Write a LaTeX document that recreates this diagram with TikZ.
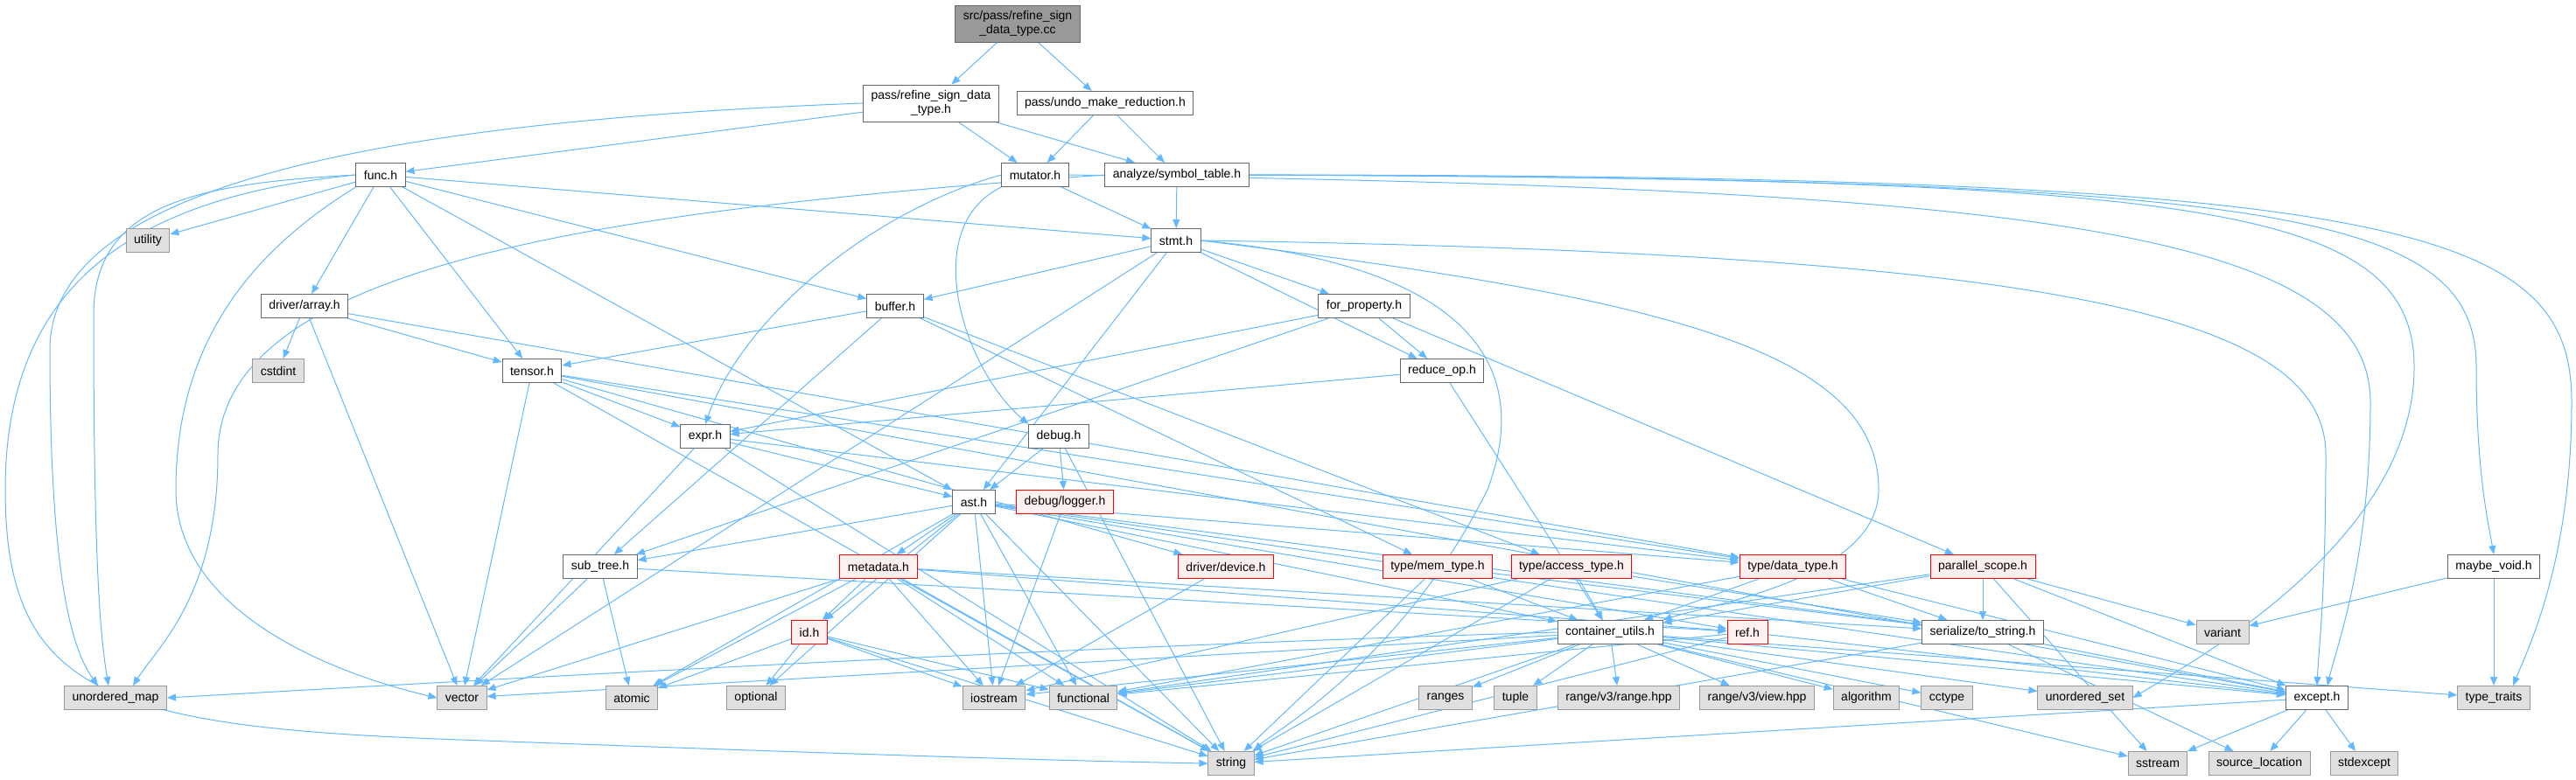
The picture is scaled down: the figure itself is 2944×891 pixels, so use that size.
\documentclass[tikz,border=0pt]{standalone}
\usepackage{fontspec}
\setmainfont{Liberation Sans}
\usetikzlibrary{arrows.meta,backgrounds}
\definecolor{depblue}{RGB}{99,184,255}
\definecolor{boxgray}{RGB}{102,102,102}
\definecolor{sysfill}{RGB}{224,224,224}
\definecolor{sysline}{RGB}{153,153,153}
\definecolor{truncfill}{RGB}{255,240,240}
\definecolor{truncline}{RGB}{255,0,0}
\definecolor{rootfill}{RGB}{153,153,153}

\begin{document}
\begin{tikzpicture}[x=0.5pt,y=-0.5pt,
    hdr/.style={draw=boxgray,fill=white,line width=0.5pt,font=\fontsize{7}{8}\selectfont,inner xsep=4.5pt,inner ysep=1pt,minimum height=13.5pt,align=center},
    sys/.style={hdr,draw=sysline,fill=sysfill},
    trunc/.style={hdr,draw=truncline,fill=truncfill},
    rootbox/.style={hdr,fill=rootfill,minimum height=21pt},
    dep/.style={-{Triangle[length=5pt,width=4pt]},depblue,line width=0.5pt}
  ]
  \useasboundingbox (0,0) rectangle (2944,891);

  % rows of the include graph
  \node[rootbox] (root) at (1163,27) {src/pass/refine\_sign\\\_data\_type.cc};
  \node[hdr,minimum height=21pt] (rsdt) at (1064,118) {pass/refine\_sign\_data\\\_type.h};
  \node[hdr] (umr) at (1263,118) {pass/undo\_make\_reduction.h};

  \node[hdr] (func) at (435,200) {func.h};
  \node[hdr] (mutator) at (1183,200) {mutator.h};
  \node[hdr] (symtab) at (1345,200) {analyze/symbol\_table.h};

  \node[sys] (utility) at (169,275) {utility};
  \node[hdr] (stmt) at (1344,275) {stmt.h};

  \node[hdr] (array) at (348,350) {driver/array.h};
  \node[hdr] (buffer) at (1023,350) {buffer.h};
  \node[hdr] (forprop) at (1559,350) {for\_property.h};

  \node[sys] (cstdint) at (318,424) {cstdint};
  \node[hdr] (tensor) at (608,424) {tensor.h};
  \node[hdr] (reduceop) at (1648,424) {reduce\_op.h};

  \node[hdr] (expr) at (806,499) {expr.h};
  \node[hdr] (debug) at (1210,499) {debug.h};

  \node[hdr] (ast) at (1113,574) {ast.h};
  \node[trunc] (logger) at (1217,574) {debug/logger.h};

  \node[hdr] (subtree) at (686,648) {sub\_tree.h};
  \node[trunc] (metadata) at (1004,648) {metadata.h};
  \node[trunc] (device) at (1401,648) {driver/device.h};
  \node[trunc] (memtype) at (1643,648) {type/mem\_type.h};
  \node[trunc] (accesstype) at (1796,648) {type/access\_type.h};
  \node[trunc] (datatype) at (2049,648) {type/data\_type.h};
  \node[trunc] (parscope) at (2266,648) {parallel\_scope.h};
  \node[hdr] (maybevoid) at (2850,648) {maybe\_void.h};

  \node[trunc] (idh) at (925,723) {id.h};
  \node[hdr] (container) at (1840,723) {container\_utils.h};
  \node[trunc] (refh) at (1997,723) {ref.h};
  \node[hdr] (tostring) at (2266,723) {serialize/to\_string.h};
  \node[sys] (variant) at (2540,723) {variant};

  \node[sys] (umap) at (132,798) {unordered\_map};
  \node[sys] (vector) at (528,798) {vector};
  \node[sys] (atomic) at (722,798) {atomic};
  \node[sys] (optional) at (864,798) {optional};
  \node[sys] (iostream) at (1136,798) {iostream};
  \node[sys] (functional) at (1238,798) {functional};
  \node[sys] (ranges) at (1652,798) {ranges};
  \node[sys] (tuple) at (1732,798) {tuple};
  \node[sys] (rangehpp) at (1850,798) {range/v3/range.hpp};
  \node[sys] (viewhpp) at (2008,798) {range/v3/view.hpp};
  \node[sys] (algorithm) at (2133,798) {algorithm};
  \node[sys] (cctype) at (2225,798) {cctype};
  \node[sys] (uset) at (2383,798) {unordered\_set};
  \node[hdr] (except) at (2648,798) {except.h};
  \node[sys] (typetraits) at (2850,798) {type\_traits};

  \node[sys] (string) at (1407,873) {string};
  \node[sys] (sstream) at (2466,873) {sstream};
  \node[sys] (srcloc) at (2582,873) {source\_location};
  \node[sys] (stdexcept) at (2702,873) {stdexcept};

  \begin{scope}[on background layer]
    % straight includes
    \foreach \t in {rsdt,umr} \draw[dep] (root) -- (\t);
    \foreach \t in {func,mutator,symtab} \draw[dep] (rsdt) -- (\t);
    \foreach \t in {mutator,symtab} \draw[dep] (umr) -- (\t);
    \foreach \t in {utility,array,tensor,stmt,buffer,ast} \draw[dep] (func) -- (\t);
    \draw[dep] (mutator) -- (stmt);
    \draw[dep] (symtab) -- (stmt);
    \foreach \t in {buffer,forprop,reduceop,ast,vector} \draw[dep] (stmt) -- (\t);
    \foreach \t in {cstdint,tensor,vector,datatype} \draw[dep] (array) -- (\t);
    \foreach \t in {tensor,subtree,memtype,accesstype} \draw[dep] (buffer) -- (\t);
    \foreach \t in {expr,subtree,reduceop,parscope} \draw[dep] (forprop) -- (\t);
    \foreach \t in {expr,container} \draw[dep] (reduceop) -- (\t);
    \foreach \t in {expr,vector,string,datatype,except,device} \draw[dep] (tensor) -- (\t);
    \foreach \t in {ast,vector,string,datatype} \draw[dep] (expr) -- (\t);
    \foreach \t in {ast,logger,string} \draw[dep] (debug) -- (\t);
    \foreach \t in {subtree,metadata,idh,atomic,optional,iostream,functional,string,datatype,container,refh,tostring,except}
      \draw[dep] (ast) -- (\t);
    \draw[dep] (logger) -- (iostream);
    \foreach \t in {vector,atomic,refh} \draw[dep] (subtree) -- (\t);
    \foreach \t in {idh,vector,atomic,iostream,functional,string,refh,tostring} \draw[dep] (metadata) -- (\t);
    \foreach \t in {atomic,optional,iostream,functional,string} \draw[dep] (idh) -- (\t);
    \draw[dep] (device) -- (iostream);
    \foreach \t in {string,container,tostring} \draw[dep] (memtype) -- (\t);
    \foreach \t in {string,container,tostring,iostream} \draw[dep] (accesstype) -- (\t);
    \foreach \t in {container,tostring,except,functional} \draw[dep] (datatype) -- (\t);
    \foreach \t in {tostring,variant,except,sstream,container,functional} \draw[dep] (parscope) -- (\t);
    \foreach \t in {except,functional,string} \draw[dep] (refh) -- (\t);
    \foreach \t in {ranges,tuple,rangehpp,viewhpp,algorithm,cctype,uset,except,typetraits,vector,iostream,functional,string,sstream}
      \draw[dep] (container) -- (\t);
    \foreach \t in {except,srcloc,string} \draw[dep] (tostring) -- (\t);
    \foreach \t in {sstream,srcloc,stdexcept,string} \draw[dep] (except) -- (\t);
    \foreach \t in {variant,typetraits} \draw[dep] (maybevoid) -- (\t);

    % long routed includes
    \draw[dep] (rsdt.west) .. controls (400,140) and (57,220) .. (57,400)
      .. controls (57,650) and (80,740) .. ([xshift=-10pt]umap.north);
    \draw[dep] (func.west) .. controls (220,210) and (107,235) .. (107,360)
      .. controls (107,650) and (115,730) .. ([xshift=-4pt]umap.north);
    \draw[dep] (func.west) .. controls (160,225) and (6,320) .. (6,560)
      .. controls (6,790) and (120,830) .. (500,845) .. controls (900,860) and (1200,870) .. (string.west);
    \draw[dep] (func.south west) .. controls (300,280) and (201,380) .. (201,560)
      .. controls (201,700) and (380,770) .. (vector.west);
    \draw[dep] (symtab.west) .. controls (700,240) and (249,300) .. (249,520)
      .. controls (249,680) and (180,740) .. ([xshift=10pt]umap.north);
    \draw[dep] (symtab.east) .. controls (2500,205) and (2759,230) .. (2759,420)
      .. controls (2759,620) and (2500,760) .. (uset.east);
    \draw[dep] (symtab.east) .. controls (2600,205) and (2830,240) .. (2830,420)
      .. controls (2830,540) and (2844,600) .. (maybevoid.north);
    \draw[dep] (symtab.east) .. controls (2750,200) and (2939,260) .. (2939,460)
      .. controls (2939,640) and (2890,740) .. ([xshift=11pt]typetraits.north);
    \draw[dep] (mutator.east) .. controls (2300,215) and (2709,260) .. (2709,460)
      .. controls (2709,640) and (2670,740) .. ([xshift=6pt]except.north);
    \draw[dep] (stmt.east) .. controls (2350,290) and (2658,360) .. (2658,520)
      .. controls (2658,680) and (2650,740) .. (except.north);
    \draw[dep] (stmt.east) .. controls (1900,340) and (2147,400) .. (2147,560)
      .. controls (2147,660) and (1960,690) .. (container.north east);
    \draw[dep] (stmt.east) .. controls (1650,300) and (1760,400) .. (1700,560)
      .. controls (1600,760) and (1450,840) .. (string.north east);
    \draw[dep] (container.west) .. controls (1200,740) and (600,775) .. (umap.east);
    \draw[dep] (mutator.west) .. controls (1000,240) and (850,360) .. (expr.north);
    \draw[dep] (mutator.south west) .. controls (1050,260) and (1100,420) .. (debug.north west);
  \end{scope}
\end{tikzpicture}
\end{document}
